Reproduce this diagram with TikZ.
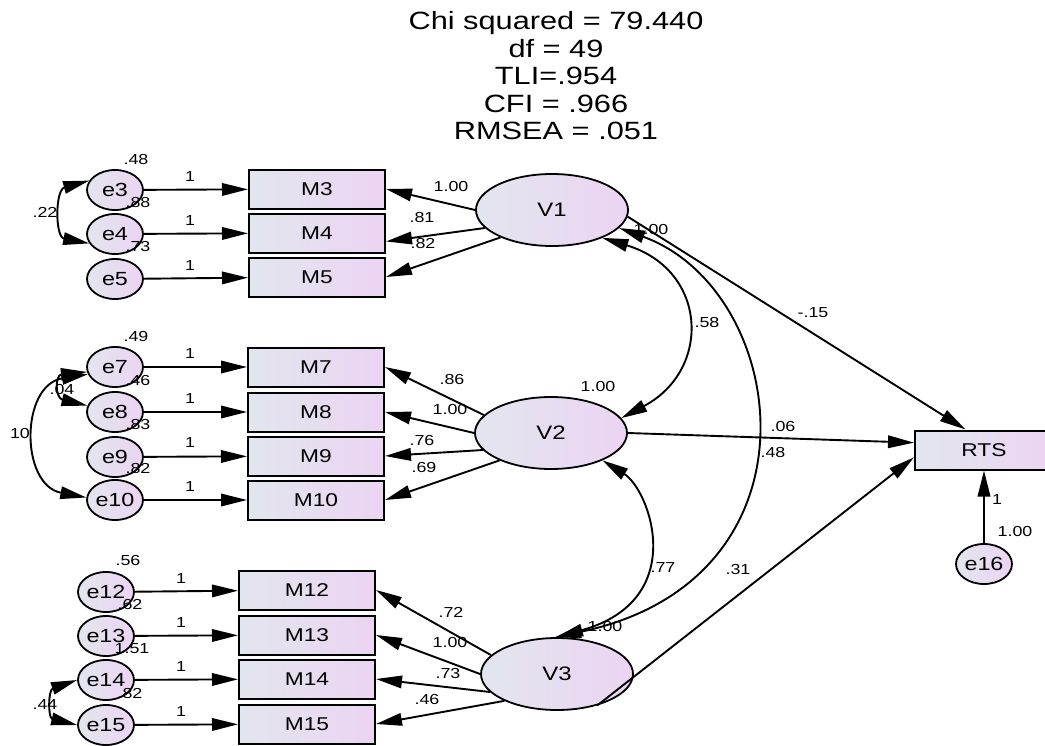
\documentclass[tikz,border=0pt]{standalone}
\usepackage{fontspec}
\setmainfont{Liberation Sans}[FakeStretch=1.23]
\usetikzlibrary{arrows.meta,shapes.geometric}
\definecolor{gL}{RGB}{226,230,238}
\definecolor{gR}{RGB}{236,212,243}
\tikzset{bigtri/.tip={Triangle[length=26pt,width=12.5pt]}}
\begin{document}
\begin{tikzpicture}[x=1pt,y=-1pt,
  conn/.style={line width=1.9pt},
  obs/.style={draw, line width=2pt, rectangle, minimum width=136pt, minimum height=39pt, inner sep=0pt, left color=gL, right color=gR, font=\fontsize{18.5}{20}\selectfont},
  err/.style={draw, line width=1.8pt, ellipse, minimum width=56pt, minimum height=40pt, inner sep=0pt, left color=gL, right color=gR, font=\fontsize{19}{20}\selectfont},
  lat/.style={draw, line width=1.8pt, ellipse, minimum width=152pt, minimum height=72pt, inner sep=0pt, left color=gL, right color=gR, font=\fontsize{19.5}{20}\selectfont},
  lab/.style={inner sep=0pt, font=\fontsize{14.5}{16}\selectfont}]
\useasboundingbox (0,0) rectangle (1045,745);

% title
\node[align=center, inner sep=0pt, font=\fontsize{25}{27.5}\selectfont] (title) at (556,76)
  {Chi squared = 79.440\\df = 49\\TLI=.954\\CFI = .966\\RMSEA = .051};

% error nodes
\node[err] (e3) at (115,190) {e3};
\node[err] (e4) at (115,234) {e4};
\node[err] (e5) at (115,279) {e5};
\node[err] (e7) at (115,367) {e7};
\node[err] (e8) at (115,412) {e8};
\node[err] (e9) at (115,457) {e9};
\node[err] (e10) at (115,500) {e10};
\node[err] (e12) at (106,592) {e12};
\node[err] (e13) at (106,636) {e13};
\node[err] (e14) at (106,680) {e14};
\node[err] (e15) at (106,725) {e15};
\node[err] (e16) at (984,564) {e16};

% observed
\node[obs] (M3) at (317,189) {M3};
\node[obs] (M4) at (317,233) {M4};
\node[obs] (M5) at (317,277) {M5};
\node[obs] (M7) at (316,367) {M7};
\node[obs] (M8) at (316,412) {M8};
\node[obs] (M9) at (316,456) {M9};
\node[obs] (M10) at (316,500) {M10};
\node[obs] (M12) at (307,590) {M12};
\node[obs] (M13) at (307,635) {M13};
\node[obs] (M14) at (307,679) {M14};
\node[obs] (M15) at (307,724) {M15};
\node[obs, minimum width=138pt] (RTS) at (984,450) {RTS};

% latent
\node[lat] (V1) at (552,210) {V1};
\node[lat] (V2) at (551,433) {V2};
\node[lat] (V3) at (557,674) {V3};

% variance labels
\node[lab] (l1) at (136,160) {.48};
\node[lab] (l2) at (138,203) {.88};
\node[lab] (l3) at (138,247) {.73};
\node[lab] (l4) at (136,337) {.49};
\node[lab] (l5) at (138,381) {.46};
\node[lab] (l6) at (138,425) {.83};
\node[lab] (l7) at (138,469) {.82};
\node[lab] (l8) at (128,561) {.56};
\node[lab] (l9) at (130,605) {.62};
\node[lab] (l10) at (132,649) {1.51};
\node[lab] (l11) at (130,693) {.82};
\node[lab] (l12) at (651,230) {1.00};
\node[lab] (l13) at (598,387) {1.00};
\node[lab] (l14) at (605,627) {1.00};
\node[lab] (l15) at (1015,532) {1.00};

% covariance labels
\node[lab] (c1) at (45,212) {.22};
\node[lab] (c2) at (62,390) {.04};
\node[lab] (c3) at (20,434) {10};
\node[lab] (c4) at (45,705) {.44};
\node[lab] (c5) at (707,323) {.58};
\node[lab] (c6) at (773,453) {.48};
\node[lab] (c7) at (663,568) {.77};

% path labels
\node[lab] (p1) at (190,177) {1};
\node[lab] (p2) at (190,221) {1};
\node[lab] (p3) at (190,266) {1};
\node[lab] (p4) at (190,354) {1};
\node[lab] (p5) at (190,399) {1};
\node[lab] (p6) at (190,443) {1};
\node[lab] (p7) at (190,487) {1};
\node[lab] (p8) at (181,579) {1};
\node[lab] (p9) at (181,623) {1};
\node[lab] (p10) at (181,667) {1};
\node[lab] (p11) at (181,712) {1};
\node[lab] (p12) at (997,500) {1};

\node[lab] (q1) at (451,187) {1.00};
\node[lab] (q2) at (422,218) {.81};
\node[lab] (q3) at (423,244) {.82};
\node[lab] (q4) at (452,380) {.86};
\node[lab] (q5) at (450,410) {1.00};
\node[lab] (q6) at (422,441) {.76};
\node[lab] (q7) at (424,468) {.69};
\node[lab] (q8) at (451,612) {.72};
\node[lab] (q9) at (450,642) {1.00};
\node[lab] (q10) at (448,673) {.73};
\node[lab] (q11) at (427,699) {.46};
\node[lab] (q12) at (813,313) {-.15};
\node[lab] (q13) at (783,427) {.06};
\node[lab] (q14) at (738,570) {.31};

% error -> indicator
\foreach \a/\b in {e3/M3,e4/M4,e5/M5,e7/M7,e8/M8,e9/M9,e10/M10,e12/M12,e13/M13,e14/M14,e15/M15,e16/RTS}
  \draw[conn,-bigtri] (\a) -- (\b);

% loadings
\draw[conn,-bigtri] (V1.180) -- (M3.east);
\draw[conn,-bigtri] (V1.195) -- (M4.-7);
\draw[conn,-bigtri] (V1.208) -- (M5.east);
\draw[conn,-bigtri] (V2.165) -- (M7.east);
\draw[conn,-bigtri] (V2.180) -- (M8.east);
\draw[conn,-bigtri] (V2.194) -- (M9.east);
\draw[conn,-bigtri] (V2.208) -- (M10.east);
\draw[conn,-bigtri] (V3.164) -- (M12.east);
\draw[conn,-bigtri] (V3.180) -- (M13.east);
\draw[conn,-bigtri] (V3.195) -- (M14.east);
\draw[conn,-bigtri] (V3.207) -- (M15.east);

% structural
\draw[conn,-bigtri] (V1.-5) -- (RTS.132);
\draw[conn,-bigtri] (V2.east) -- (RTS.174);
\draw[conn,-bigtri] (V3.-38) -- (RTS.186);

% covariances
\draw[conn,bigtri-bigtri] (V1.-29) .. controls (708,270) and (712,370) .. (V2.12);
\draw[conn,bigtri-bigtri] (V1.-15) .. controls (790,290) and (830,580) .. (V3.93);
\draw[conn,bigtri-bigtri] (V2.-28) .. controls (650,490) and (690,600) .. (V3.90);
\draw[conn,bigtri-bigtri] (e3.160) .. controls (55,190) and (55,237) .. (e4.200);
\draw[conn,bigtri-bigtri] (e7.190) .. controls (55,375) and (55,398) .. (e8.167);
\draw[conn,bigtri-bigtri] (e7.195) .. controls (20,385) and (20,485) .. (e10.175);
\draw[conn,bigtri-bigtri] (e14.180) .. controls (48,690) and (48,718) .. (e15.180);
\end{tikzpicture}
\end{document}
